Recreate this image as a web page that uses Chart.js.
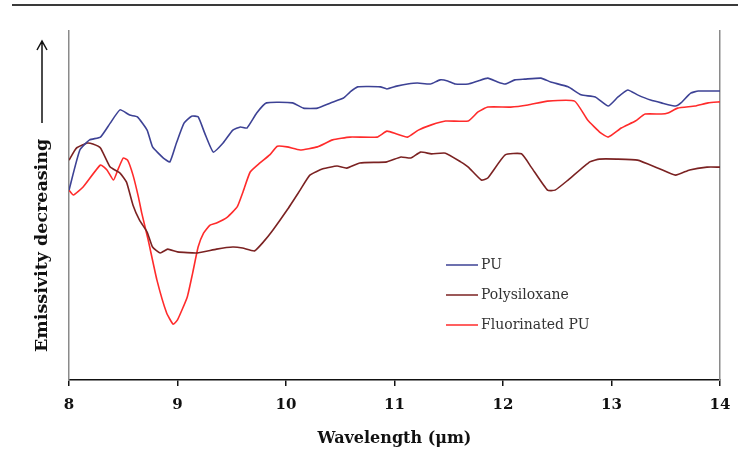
<!DOCTYPE html>
<html>
<head>
<meta charset="utf-8">
<script src="https://cdn.jsdelivr.net/npm/chart.js@4.4.1/dist/chart.umd.min.js"></script>
<style>
  html, body { margin: 0; padding: 0; background: #fff; }
  #wrap { width: 738px; height: 453px; position: relative; }
</style>
</head>
<body>
<div id="wrap"><canvas id="chart"></canvas></div>
<script>
// wavelength (um) / relative emissivity pairs for each coating
const puWavelength = [8.00, 8.10, 8.19, 8.29, 8.38, 8.47, 8.56, 8.63, 8.72, 8.77, 8.87, 8.93, 8.99, 9.06, 9.13, 9.19, 9.25, 9.33, 9.42, 9.51, 9.58, 9.64, 9.73, 9.82, 10.06, 10.16, 10.29, 10.41, 10.53, 10.59, 10.66, 10.87, 10.93, 11.02, 11.12, 11.21, 11.33, 11.42, 11.49, 11.56, 11.68, 11.77, 11.86, 11.95, 12.02, 12.11, 12.20, 12.35, 12.44, 12.60, 12.72, 12.85, 12.97, 13.06, 13.15, 13.24, 13.36, 13.46, 13.59, 13.64, 13.73, 13.80, 14.00];
const puValues = [54.4, 65.9, 68.8, 69.6, 73.6, 77.4, 75.9, 75.4, 71.6, 66.8, 63.6, 62.5, 67.9, 73.6, 75.6, 75.4, 70.8, 65.3, 67.9, 71.6, 72.5, 72.2, 76.5, 79.4, 79.4, 77.9, 77.9, 79.4, 80.8, 82.5, 84.0, 84.0, 83.4, 84.2, 84.8, 85.1, 84.8, 86.0, 85.7, 84.8, 84.8, 85.7, 86.5, 85.4, 84.8, 86.0, 86.2, 86.5, 85.4, 84.0, 81.7, 81.1, 78.5, 81.1, 83.1, 81.7, 80.2, 79.4, 78.5, 79.4, 82.2, 82.8, 82.8];

const siloxWavelength = [8.00, 8.07, 8.17, 8.22, 8.29, 8.38, 8.47, 8.53, 8.59, 8.65, 8.72, 8.77, 8.84, 8.91, 9.00, 9.18, 9.36, 9.51, 9.60, 9.71, 9.79, 9.88, 10.01, 10.13, 10.22, 10.34, 10.47, 10.56, 10.68, 10.93, 11.06, 11.15, 11.24, 11.34, 11.47, 11.61, 11.68, 11.80, 11.86, 12.02, 12.17, 12.26, 12.41, 12.48, 12.60, 12.80, 12.89, 13.05, 13.24, 13.43, 13.59, 13.72, 13.88, 14.00];
const siloxValues = [63.0, 66.5, 67.9, 67.6, 66.5, 61.0, 59.3, 56.7, 50.1, 45.8, 42.4, 38.1, 36.4, 37.5, 36.7, 36.4, 37.5, 38.1, 37.8, 37.0, 39.5, 43.0, 48.7, 54.4, 58.7, 60.5, 61.3, 60.7, 62.2, 62.5, 63.9, 63.6, 65.3, 64.8, 65.0, 62.5, 61.0, 57.3, 57.9, 64.5, 64.8, 61.0, 54.4, 54.4, 57.3, 62.5, 63.3, 63.3, 63.0, 60.7, 58.7, 60.2, 61.0, 61.0];

const fluoroWavelength = [8.00, 8.04, 8.13, 8.29, 8.35, 8.41, 8.45, 8.50, 8.54, 8.59, 8.64, 8.67, 8.73, 8.81, 8.90, 8.96, 9.00, 9.09, 9.14, 9.19, 9.24, 9.30, 9.36, 9.46, 9.55, 9.60, 9.67, 9.76, 9.85, 9.92, 10.01, 10.13, 10.29, 10.43, 10.59, 10.84, 10.93, 11.02, 11.12, 11.22, 11.34, 11.47, 11.68, 11.77, 11.86, 12.07, 12.23, 12.41, 12.66, 12.78, 12.90, 12.97, 13.09, 13.22, 13.31, 13.46, 13.52, 13.61, 13.77, 13.89, 14.00];
const fluoroValues = [54.4, 53.0, 55.3, 61.6, 60.2, 57.3, 60.2, 63.6, 63.0, 58.7, 52.4, 47.9, 40.1, 28.7, 19.2, 16.0, 17.2, 23.8, 30.7, 38.1, 42.1, 44.4, 45.0, 46.7, 49.6, 53.6, 59.6, 62.2, 64.5, 67.0, 66.8, 65.9, 66.8, 68.8, 69.6, 69.6, 71.3, 70.5, 69.6, 71.6, 73.1, 74.2, 74.2, 76.8, 78.2, 78.2, 78.8, 79.9, 79.9, 74.5, 70.8, 69.6, 72.2, 74.2, 76.2, 76.2, 76.5, 77.9, 78.5, 79.4, 79.7];

const seriesNames = ['PU', 'Polysiloxane', 'Fluorinated PU'];
const xTicks = [8, 9, 10, 11, 12, 13, 14];

const toPoints = (xs, ys) => xs.map((x, i) => ({ x, y: ys[i] }));

const serifBold = { family: '"DejaVu Serif", serif', size: 15, weight: 'bold' };

// rule above the chart, rotated y title with arrow, and the inset legend
const decorations = {
  id: 'decorations',
  afterDraw(chart) {
    const { ctx } = chart;
    ctx.save();

    ctx.strokeStyle = '#3a3a3a';
    ctx.lineWidth = 2;
    ctx.beginPath();
    ctx.moveTo(12, 5);
    ctx.lineTo(738, 5);
    ctx.stroke();

    // y title, reads bottom to top
    const tx = 42;
    ctx.translate(tx, 352);
    ctx.rotate(-Math.PI / 2);
    ctx.fillStyle = '#111';
    ctx.font = 'bold 17.5px "DejaVu Serif", serif';
    ctx.textBaseline = 'middle';
    ctx.textAlign = 'left';
    ctx.fillText('Emissivity decreasing', 0, 0);
    ctx.setTransform(1, 0, 0, 1, 0, 0);

    ctx.strokeStyle = '#111';
    ctx.lineWidth = 1.5;
    ctx.beginPath();
    ctx.moveTo(tx, 123);
    ctx.lineTo(tx, 41);
    ctx.moveTo(tx - 5, 50);
    ctx.lineTo(tx, 41);
    ctx.lineTo(tx + 5, 50);
    ctx.stroke();

    // legend
    ctx.font = '14px "DejaVu Serif", serif';
    ctx.textAlign = 'left';
    ctx.textBaseline = 'middle';
    chart.data.datasets.forEach((ds, i) => {
      const y = 265 + i * 30;
      ctx.strokeStyle = ds.borderColor;
      ctx.lineWidth = 1.5;
      ctx.beginPath();
      ctx.moveTo(446, y);
      ctx.lineTo(478, y);
      ctx.stroke();
      ctx.fillStyle = '#333';
      ctx.fillText(ds.label, 481, y);
    });

    ctx.restore();
  }
};

new Chart(document.getElementById('chart'), {
  type: 'line',
  data: {
    datasets: [
      { label: seriesNames[0], data: toPoints(puWavelength, puValues), borderColor: '#3d4295' },
      { label: seriesNames[1], data: toPoints(siloxWavelength, siloxValues), borderColor: '#7b2222' },
      { label: seriesNames[2], data: toPoints(fluoroWavelength, fluoroValues), borderColor: '#ff2b2b' }
    ]
  },
  options: {
    responsive: true,
    maintainAspectRatio: false,
    animation: false,
    layout: { padding: { top: 31, right: 18, left: 0, bottom: 0 } },
    elements: {
      line: { borderWidth: 1.6, tension: 0.15, fill: false },
      point: { radius: 0 }
    },
    scales: {
      x: {
        type: 'linear',
        min: 8,
        max: 14,
        afterBuildTicks: (scale) => { scale.ticks = xTicks.map(v => ({ value: v })); },
        afterFit: (scale) => {
          scale.height = 73;
          scale.paddingLeft = 0;
          scale.paddingRight = 0;
        },
        ticks: { color: '#111', font: serifBold, padding: 10, maxRotation: 0 },
        grid: { display: true, drawOnChartArea: false, drawTicks: true, tickLength: 6, color: '#111', lineWidth: 1.5 },
        border: { display: true, color: '#111', width: 1.5 },
        title: { display: true, text: 'Wavelength (μm)', color: '#111', font: { ...serifBold, size: 16 }, padding: { top: 0, bottom: 5 } }
      },
      y: {
        min: 0,
        max: 100,
        afterFit: (scale) => { scale.width = 69; },
        ticks: { display: false },
        grid: { display: false },
        border: { display: true, color: '#8a8a8a', width: 1.5 }
      },
      yRight: {
        position: 'right',
        min: 0,
        max: 100,
        afterFit: (scale) => { scale.width = 0; },
        ticks: { display: false },
        grid: { display: false },
        border: { display: true, color: '#8a8a8a', width: 1.5 }
      }
    },
    plugins: {
      legend: { display: false },
      tooltip: { enabled: false }
    }
  },
  plugins: [decorations]
});
</script>
</body>
</html>
